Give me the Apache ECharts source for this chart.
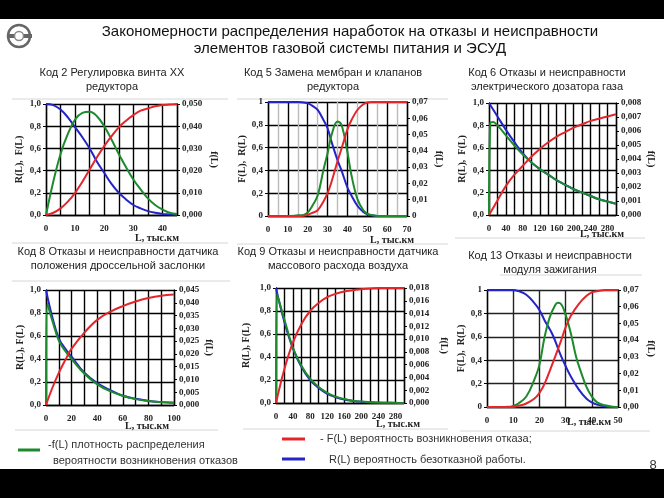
<!DOCTYPE html>
<html><head><meta charset="utf-8">
<script src="https://cdn.jsdelivr.net/npm/echarts@6/dist/echarts.min.js"></script>
<style>html,body{margin:0;padding:0;background:#fff}#c{width:664px;height:498px}</style>
</head><body><div id="c"></div>
<script>
// ---------- DATA ----------
// Код 2
const p1X = [0,2.5,5,7.5,10,12.5,15,17.5,20,22.5,25,27.5,30,32.5,35,37.5,40,42.5,45];
const p1R = [1.0,0.99,0.95,0.88,0.79,0.7,0.6,0.48,0.38,0.28,0.2,0.14,0.09,0.06,0.035,0.02,0.01,0.005,0];
const p1F = [0,0.02,0.06,0.12,0.2,0.3,0.41,0.52,0.62,0.71,0.79,0.85,0.9,0.94,0.96,0.98,0.99,0.995,1.0];
const p1fX = [0,2.5,5,7.5,10,12.5,15,17.5,20,22.5,25,27.5,30,32.5,35,37.5,40,42.5,45];
const p1f = [0,0.015,0.0275,0.0365,0.043,0.046,0.0465,0.0445,0.04,0.034,0.0275,0.0215,0.016,0.0115,0.0075,0.0045,0.0025,0.001,0.0005];
// Код 5
const p2X = [0,5,10,15,18,20,22,25,28,30,32,35,37,40,42,45,48,50,52,55,60,65,70];
const p2R = [1,1,1,1,0.995,0.99,0.97,0.93,0.84,0.77,0.65,0.49,0.4,0.25,0.18,0.09,0.035,0.015,0.007,0,0,0,0];
const p2F = [0,0,0,0,0.003,0.01,0.025,0.05,0.13,0.2,0.3,0.48,0.59,0.76,0.84,0.93,0.98,0.995,1,1,1,1,1];
const p2fX = [0,5,10,15,18,20,22,25,28,30,32,35,37,40,42,45,48,50,52,55,60,65,70];
const p2f = [0,0,0,0.0004,0.0007,0.0021,0.0056,0.0126,0.0287,0.0385,0.0497,0.0581,0.056,0.0392,0.0252,0.0105,0.0035,0.0014,0.0007,0,0,0,0];
// Код 6
const p3X = [0,20,40,60,80,100,120,140,160,180,200,220,240,260,280,300];
const p3R = [1.0,0.88,0.76,0.65,0.55,0.47,0.41,0.36,0.31,0.27,0.23,0.2,0.17,0.14,0.12,0.1];
const p3F = [0,0.13,0.26,0.36,0.44,0.52,0.59,0.65,0.7,0.74,0.78,0.81,0.84,0.86,0.88,0.9];
const p3fX = [0,3,10,20,40,60,80,100,120,140,160,180,200,220,240,260,280,300];
const p3f = [0,0.00656,0.00664,0.0064,0.00568,0.00496,0.00432,0.00376,0.00328,0.00288,0.00248,0.00216,0.00184,0.0016,0.00136,0.00112,0.00096,0.0008];
// Код 8
const p4X = [0,5,10,15,20,30,40,50,60,70,80,90,100];
const p4R = [1.0,0.76,0.58,0.49,0.42,0.28,0.19,0.13,0.08,0.055,0.035,0.025,0.02];
const p4F = [0,0.15,0.28,0.39,0.49,0.63,0.74,0.81,0.86,0.9,0.93,0.95,0.96];
const p4fX = [0,1,5,10,15,20,30,40,50,60,70,80,90,100];
const p4f = [0,0.0396,0.0329,0.0252,0.0212,0.018,0.0122,0.0081,0.0054,0.0036,0.0023,0.0016,0.0011,0.0009];
// Код 9
const p5X = [0,20,40,60,80,100,120,140,160,180,200,220,240,260,280,300];
const p5R = [1,0.7,0.47,0.31,0.2,0.13,0.08,0.05,0.03,0.018,0.01,0.006,0.003,0.002,0.001,0];
const p5F = [0,0.3,0.53,0.69,0.8,0.87,0.92,0.95,0.97,0.98,0.99,0.995,1,1,1,1];
const p5fX = [0,2,20,40,60,80,100,120,140,160,180,200,220,240,260,280,300];
const p5f = [0,0.0171,0.013,0.0086,0.0058,0.0038,0.0025,0.0016,0.001,0.00063,0.00036,0.00022,0.00013,0.00007,0.00004,0.00002,0];
// Код 13
const p6X = [0,5,10,12,15,18,20,22,25,28,30,32,35,38,40,42,45,48,50];
const p6R = [1,1,1,0.99,0.96,0.89,0.83,0.74,0.62,0.45,0.35,0.26,0.15,0.07,0.04,0.02,0.005,0,0];
const p6F = [0,0,0,0.01,0.03,0.07,0.12,0.2,0.37,0.55,0.68,0.78,0.88,0.95,0.98,0.99,1,1,1];
const p6fX = [0,5,8,10,12,15,18,20,22,24,26,27,28,30,32,34,36,38,40,42,45,48,50];
const p6f = [0,0,0.0001,0.0007,0.0021,0.0063,0.0161,0.0252,0.042,0.0539,0.0609,0.0623,0.062,0.0553,0.0441,0.0301,0.0203,0.0119,0.0063,0.0028,0.001,0.0002,0];

const titles = [
  ['Код 2 Регулировка винта XX','редуктора'],
  ['Код 5 Замена мембран и клапанов','редуктора'],
  ['Код 6 Отказы и неисправности','электрического дозатора газа'],
  ['Код 8 Отказы и неисправности датчика','положения дроссельной заслонки'],
  ['Код 9 Отказы и неисправности датчика','массового расхода воздуха'],
  ['Код 13 Отказы и неисправности','модуля зажигания']
];
const leftNames = ['R(L),  F(L)','F(L),  R(L)','R(L),  F(L)','R(L), F(L)','R(L), F(L)','F(L),  R(L)'];
const xName = 'L, тыс.км';

// ---------- LAYOUT ----------
const panels = [
  {x:p1X,R:p1R,F:p1F,fx:p1fX,f:p1f, g:{left:46,top:104,width:131,height:111}, xMax:45, xInt:5, xLab:10, split:['#000'], rMax:0.05, rInt:0.01, rFmt:v=>v.toFixed(3), lFmt:v=>v.toFixed(1), tt:[112,80], xn:[157,238]},
  {x:p2X,R:p2R,F:p2F,fx:p2fX,f:p2f, g:{left:268,top:102,width:139,height:114}, xMax:70, xInt:5, xLab:10, split:['#000','#bbb'], rMax:0.07, rInt:0.01, rFmt:v=>v===0?'0':v.toFixed(2), lFmt:v=>(v===0||v===1)?String(v):v.toFixed(1), tt:[333,80], xn:[392,240]},
  {x:p3X,R:p3R,F:p3F,fx:p3fX,f:p3f, g:{left:489,top:103,width:127,height:112}, xMax:300, xInt:20, xLab:40, split:['#000'], rMax:0.008, rInt:0.001, rFmt:v=>v.toFixed(3), lFmt:v=>v.toFixed(1), tt:[547,80], xn:[602,234]},
  {x:p4X,R:p4R,F:p4F,fx:p4fX,f:p4f, g:{left:46,top:290,width:128,height:115}, xMax:100, xInt:10, xLab:20, split:['#000'], rMax:0.045, rInt:0.005, rFmt:v=>v.toFixed(3), lFmt:v=>v.toFixed(1), tt:[118,259], xn:[147,426]},
  {x:p5X,R:p5R,F:p5F,fx:p5fX,f:p5f, g:{left:276,top:288,width:128,height:115}, xMax:300, xInt:20, xLab:40, split:['#000'], rMax:0.018, rInt:0.002, rFmt:v=>v.toFixed(3), lFmt:v=>v.toFixed(1), tt:[338,259], xn:[398,424]},
  {x:p6X,R:p6R,F:p6F,fx:p6fX,f:p6f, g:{left:487,top:290,width:131,height:117}, xMax:50, xInt:10, xLab:10, split:['#222'], rMax:0.07, rInt:0.01, rFmt:v=>v.toFixed(2), lFmt:v=>(v===0||v===1)?String(v):v.toFixed(1), tt:[550,263], xn:[589,422]}
];
const leftNameGap = [22,21,22,20,25,19];
const rightNameGap = [32,27,30,22,35,28];

const RED='#e4262b', BLUE='#2424c8', GREEN='#1d8a2c';
const tickFont = {fontFamily:'Liberation Serif', fontWeight:'bold', fontSize:9, color:'#222'};
const comma = s => s.replace('.',',');

const grid=[], xAxis=[], yAxis=[], series=[], graphic=[];
// black bars
graphic.push({type:'rect', shape:{x:0,y:0,width:664,height:19}, style:{fill:'#000'}});
graphic.push({type:'rect', shape:{x:0,y:469,width:664,height:29}, style:{fill:'#000'}});
// logo
graphic.push({type:'circle', shape:{cx:19,cy:36,r:11}, style:{fill:'none', stroke:'#666', lineWidth:2.5}});
graphic.push({type:'rect', shape:{x:7,y:34,width:25,height:4}, style:{fill:'#666'}});
graphic.push({type:'circle', shape:{cx:19,cy:36,r:4.5}, style:{fill:'#fff', stroke:'#888', lineWidth:1.5}});
// main title
graphic.push({type:'text', x:350, y:32, style:{text:'Закономерности распределения наработок на отказы и неисправности', fontFamily:'Liberation Sans', fontSize:15, fill:'#111', align:'center', verticalAlign:'middle'}});
graphic.push({type:'text', x:350, y:49, style:{text:'элементов газовой системы питания и ЭСУД', fontFamily:'Liberation Sans', fontSize:15, fill:'#111', align:'center', verticalAlign:'middle'}});
// faint frame lines
const frames = [[12,99,228],[237,99,448],[12,243,228],[237,244,448],[455,238,645],[12,281,230],[500,275,642],[15,430,218],[243,429,448],[460,431,650]];
frames.forEach(([x1,y,x2])=>graphic.push({type:'line', shape:{x1,y1:y,x2,y2:y}, style:{stroke:'#d6d6d6', lineWidth:1}}));

panels.forEach((p,i)=>{
  grid.push(Object.assign({containLabel:false}, p.g));
  xAxis.push({type:'value', gridIndex:i, min:0, max:p.xMax, interval:p.xInt,
    axisLine:{show:true, lineStyle:{color:'#000', width:1.3}}, axisTick:{show:false},
    axisLabel:Object.assign({margin:9, formatter:v=> (Math.round(v)%p.xLab===0)? String(v):''}, tickFont),
    splitLine:{show:true, lineStyle:{color:p.split, width:1.4}}});
  yAxis.push({type:'value', gridIndex:i, min:0, max:1, interval:0.2, position:'left',
    name:leftNames[i], nameLocation:'middle', nameRotate:90, nameGap:leftNameGap[i],
    nameTextStyle:{fontFamily:'Liberation Serif', fontWeight:'bold', fontSize:10, color:'#222'},
    axisLine:{show:true, lineStyle:{color:'#000', width:1.3}}, axisTick:{show:true, length:3, lineStyle:{color:'#000'}},
    axisLabel:Object.assign({margin:5, formatter:v=>comma(p.lFmt(v))}, tickFont),
    splitLine:{show:true, lineStyle:{color:i===5?'#222':'#000', width:1.4}}});
  yAxis.push({type:'value', gridIndex:i, min:0, max:p.rMax, interval:p.rInt, position:'right',
    name:'f(L)', nameLocation:'middle', nameRotate:-90, nameGap:rightNameGap[i],
    nameTextStyle:{fontFamily:'Liberation Serif', fontWeight:'bold', fontSize:10, color:'#222'},
    axisLine:{show:true, lineStyle:{color:'#000', width:1.3}}, axisTick:{show:true, length:3, lineStyle:{color:'#000'}},
    axisLabel:Object.assign({margin:5, formatter:v=>comma(p.rFmt(v))}, tickFont),
    splitLine:{show:false}});
  const common = {type:'line', xAxisIndex:i, showSymbol:false, smooth:0.4, animation:false};
  series.push(Object.assign({}, common, {name:'R(L)', yAxisIndex:2*i, data:p.x.map((v,k)=>[v,p.R[k]]), lineStyle:{color:BLUE, width:2}, itemStyle:{color:BLUE}}));
  series.push(Object.assign({}, common, {name:'f(L)', yAxisIndex:2*i+1, data:p.fx.map((v,k)=>[v,p.f[k]]), lineStyle:{color:GREEN, width:2}, itemStyle:{color:GREEN}}));
  series.push(Object.assign({}, common, {name:'F(L)', yAxisIndex:2*i, data:p.x.map((v,k)=>[v,p.F[k]]), lineStyle:{color:RED, width:2}, itemStyle:{color:RED}}));
  // panel title
  graphic.push({type:'text', x:p.tt[0], y:p.tt[1], style:{text:titles[i][0]+'\n'+titles[i][1], fontFamily:'Liberation Sans', fontSize:11, lineHeight:14, fill:'#222', align:'center', verticalAlign:'middle'}});
  graphic.push({type:'text', x:p.xn[0], y:p.xn[1], style:{text:xName, fontFamily:'Liberation Serif', fontWeight:'bold', fontSize:10, fill:'#222', align:'center', verticalAlign:'middle'}});
});

// legend
graphic.push({type:'line', shape:{x1:18,y1:450,x2:40,y2:450}, style:{stroke:GREEN, lineWidth:3}});
graphic.push({type:'line', shape:{x1:282,y1:439,x2:305,y2:439}, style:{stroke:RED, lineWidth:3}});
graphic.push({type:'line', shape:{x1:282,y1:459,x2:305,y2:459}, style:{stroke:BLUE, lineWidth:3}});
const lt = {fontFamily:'Liberation Sans', fontSize:11, fill:'#333', verticalAlign:'middle'};
graphic.push({type:'text', x:48, y:445, style:Object.assign({text:'-f(L) плотность распределения'}, lt)});
graphic.push({type:'text', x:53, y:461, style:Object.assign({text:'вероятности возникновения отказов'}, lt)});
graphic.push({type:'text', x:320, y:439, style:Object.assign({text:'- F(L) вероятность возникновения отказа;'}, lt)});
graphic.push({type:'text', x:329, y:460, style:Object.assign({text:'R(L) вероятность безотказной работы.'}, lt)});
graphic.push({type:'text', x:653, y:465, style:{text:'8', fontFamily:'Liberation Sans', fontSize:13, fill:'#333', align:'center', verticalAlign:'middle'}});

const chart = echarts.init(document.getElementById('c'), null, {renderer:'canvas'});
chart.setOption({animation:false, backgroundColor:'#fff', grid, xAxis, yAxis, series, graphic});
</script></body></html>
